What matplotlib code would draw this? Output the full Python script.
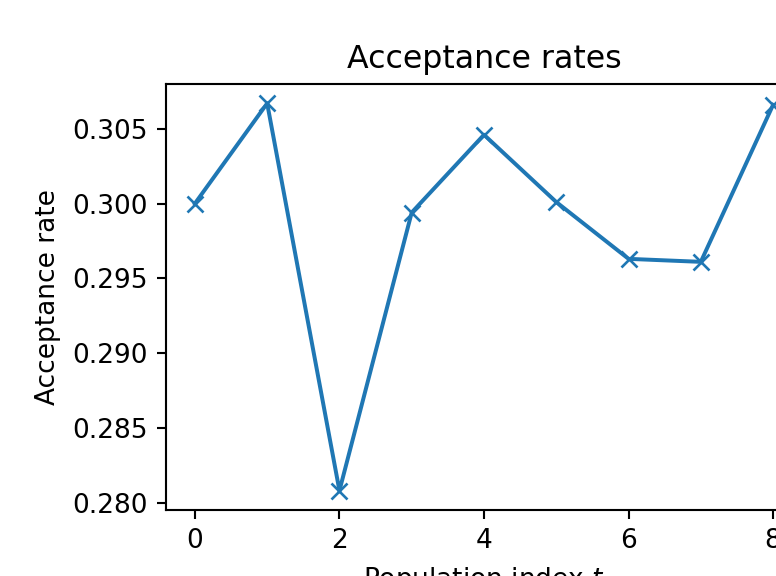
#!/usr/bin/env python3

import matplotlib
matplotlib.use("Agg")
import matplotlib.pyplot as plt

import numpy as np


# acceptance rate per population
t = [0, 1, 2, 3, 4, 5, 6, 7, 8]
rates = [0.3000, 0.3067, 0.2808, 0.2994, 0.3046, 0.3001, 0.2963, 0.2961, 0.3066]

DPI = 190

fig = plt.figure(figsize=(776 / DPI, 576 / DPI), dpi=DPI)
# axes run past the right and bottom edge, like the cropped original
axes = fig.add_axes([0.2139, 0.1146, 0.8196, 0.7396])

axes.plot(t, rates, marker='x', color='tab:blue')

axes.set_title('Acceptance rates')
axes.set_xlabel('Population index $t$')
axes.set_ylabel('Acceptance rate')
axes.set_xticks([0, 2, 4, 6, 8])
axes.set_yticks([0.280, 0.285, 0.290, 0.295, 0.300, 0.305])

fig.savefig('out.png', dpi=DPI)
